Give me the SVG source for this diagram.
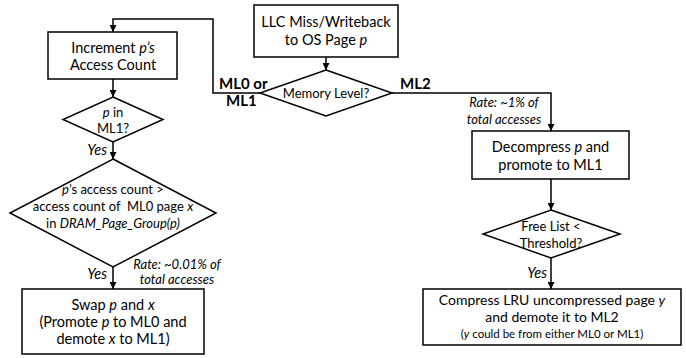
<svg xmlns="http://www.w3.org/2000/svg" width="686" height="358" viewBox="0 0 686 358">
<defs>
<marker id="ah" viewBox="0 0 10 10" refX="10" refY="5" markerWidth="7" markerHeight="7" markerUnits="userSpaceOnUse" orient="auto">
<path d="M0,0 L10,5 L0,10 z" fill="#000"/>
</marker>
<style>
.shape{fill:#fff;stroke:#000;stroke-width:1.5}
.ln{fill:none;stroke:#000;stroke-width:1.5}
text{font-family:Lato,"Open Sans","Liberation Sans",sans-serif;fill:#000}
.t{font-size:14.5px;text-anchor:middle}
.t2{font-size:14px;text-anchor:middle}
.s{font-size:13px;text-anchor:middle}
.xs{font-size:11.5px;text-anchor:middle}
.b{font-size:15px;font-weight:bold}
.i{font-style:italic}
.r{font-size:13px;font-style:italic;text-anchor:middle}
.y{font-size:14.5px;font-style:italic;text-anchor:end}
</style>
</defs>
<g id="connectors">
<path class="ln" d="M326,57 L326,70" marker-end="url(#ah)"/>
<path class="ln" d="M260,93 L213,93 L213,19 L113,19 L113,32" marker-end="url(#ah)"/>
<path class="ln" d="M392,93 L551,93 L551,131" marker-end="url(#ah)"/>
<path class="ln" d="M113,79 L113,97" marker-end="url(#ah)"/>
<path class="ln" d="M113,142 L113,159" marker-end="url(#ah)"/>
<path class="ln" d="M113,267 L113,289" marker-end="url(#ah)"/>
<path class="ln" d="M551,179 L551,210" marker-end="url(#ah)"/>
<path class="ln" d="M551,258 L551,289" marker-end="url(#ah)"/>
</g>
<g id="llc">
<rect class="shape" x="254" y="5" width="144" height="52"/>
<text class="t" x="326" y="27">LLC Miss/Writeback</text>
<text class="t" x="326" y="45">to OS Page <tspan class="i">p</tspan></text>
</g>
<g id="memlevel">
<polygon class="shape" points="326,70 392,93 326,116 260,93"/>
<text class="s" x="326" y="97.5">Memory Level?</text>
</g>
<g id="edge-labels">
<text class="b" x="219" y="89">ML0 or</text>
<text class="b" x="226" y="106">ML1</text>
<text class="b" x="400" y="89">ML2</text>
<text class="r" x="504" y="107">Rate: ~1% of</text>
<text class="r" x="504" y="124">total accesses</text>
<text class="r" x="177" y="269">Rate: ~0.01% of</text>
<text class="r" x="177" y="284">total accesses</text>
<text class="y" x="107" y="155">Yes</text>
<text class="y" x="107" y="279">Yes</text>
<text class="y" x="547" y="278">Yes</text>
</g>
<g id="increment">
<rect class="shape" x="48" y="32" width="129" height="47"/>
<text class="t" x="113" y="53">Increment <tspan class="i">p’s</tspan></text>
<text class="t" x="113" y="70">Access Count</text>
</g>
<g id="inml1">
<polygon class="shape" points="113,97 163,119.5 113,142 63,119.5"/>
<text class="s" x="113" y="116.5"><tspan class="i">p</tspan> in</text>
<text class="s" x="113" y="132.5">ML1?</text>
</g>
<g id="compare">
<polygon class="shape" points="113,159 216,213 113,267 10,213"/>
<text class="s" x="113" y="194"><tspan class="i">p</tspan>’s access count &gt;</text>
<text class="s" x="113" y="211">access count of&#160; ML0 page <tspan class="i">x</tspan></text>
<text class="s" x="113" y="228">in <tspan class="i">DRAM_Page_Group(p)</tspan></text>
</g>
<g id="swap">
<rect class="shape" x="22" y="289" width="182" height="65"/>
<text class="t" x="113" y="310">Swap <tspan class="i">p</tspan> and <tspan class="i">x</tspan></text>
<text class="t" x="113" y="327">(Promote <tspan class="i">p</tspan> to ML0 and</text>
<text class="t" x="113" y="344">demote <tspan class="i">x</tspan> to ML1)</text>
</g>
<g id="decompress">
<rect class="shape" x="472" y="131" width="157" height="48"/>
<text class="t" x="550.5" y="152">Decompress <tspan class="i">p</tspan> and</text>
<text class="t" x="550.5" y="170">promote to ML1</text>
</g>
<g id="freelist">
<polygon class="shape" points="551,210 620,234 551,258 483,234"/>
<text class="s" x="551" y="231">Free List &lt;</text>
<text class="s" x="551" y="248">Threshold?</text>
</g>
<g id="compress">
<rect class="shape" x="423" y="289" width="258" height="56"/>
<text class="t2" x="552" y="305">Compress LRU uncompressed page <tspan class="i">y</tspan></text>
<text class="t2" x="552" y="322">and demote it to ML2</text>
<text class="xs" x="552" y="338">(<tspan class="i">y</tspan> could be from either ML0 or ML1)</text>
</g>
</svg>
